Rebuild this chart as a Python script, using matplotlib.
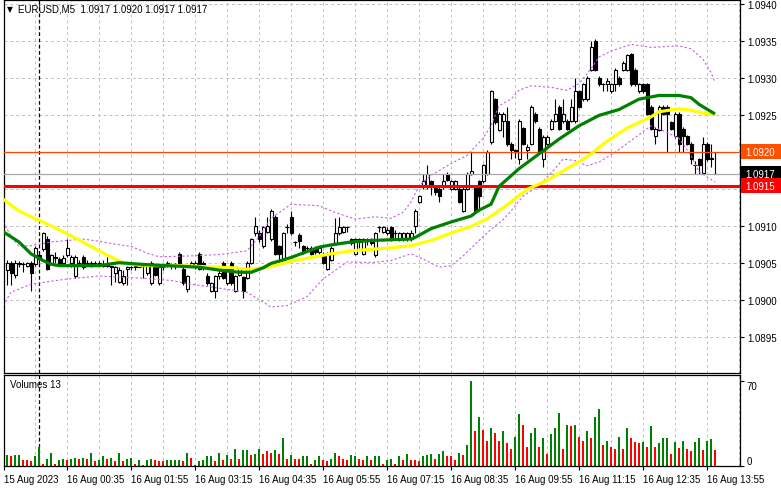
import numpy as np
import matplotlib.pyplot as plt
from matplotlib.patches import Rectangle
from matplotlib.transforms import blended_transform_factory

plt.rcParams['font.family'] = ['Liberation Sans', 'DejaVu Sans']
plt.rcParams['font.size'] = 7

# ---- data (price values in pips above 1.0900) ----
base = 1.0900
pip = 0.0001

opens = [4.0, 5.0, 3.4, 5.0, 4.8, 4.6, 5.0, 4.8, 6.0, 6.8, 8.2, 5.0, 5.8, 5.5, 5.0, 6.0, 5.0, 3.2, 5.0, 5.8,
         4.8, 4.8, 5.0, 4.8, 4.6, 4.8, 4.4, 3.6, 2.4, 2.2, 4.2, 4.4, 4.4, 4.4, 4.6, 3.6, 2.2, 4.6, 2.2, 4.4,
         4.6, 4.6, 4.6, 6.2, 4.2, 1.4, 4.6, 4.4, 6.2, 5.0, 3.2, 1.2, 1.2, 3.2, 5.0, 2.2, 5.0, 1.2, 3.4, 3.0,
         3.0, 5.0, 9.0, 9.0, 7.2, 9.2, 8.2, 11.2, 7.2, 5.0, 9.8, 11.2, 7.8, 8.8, 7.2, 7.0, 7.0, 7.0, 6.4, 6.2,
         4.2, 5.4, 7.6, 9.0, 9.2, 9.8, 8.2, 6.2, 8.2, 6.2, 8.0, 8.2, 6.0, 9.8, 9.2, 9.0, 9.8, 9.0, 8.2, 8.2,
         8.2, 8.2, 10.0, 13.2, 15.2, 15.2, 16.0, 15.2, 15.0, 15.2, 17.0, 15.0, 15.0, 15.0, 12.0, 15.0, 17.0, 15.2, 16.0, 16.0,
         17.0, 21.3, 27.1, 23.0, 24.2, 24.2, 21.1, 20.2, 19.0, 23.2, 20.2, 21.1, 25.1, 23.1, 19.0, 21.1, 23.1, 24.2, 26.1, 24.1,
         24.2, 24.2, 24.1, 28.2, 27.1, 27.1, 31.1, 35.0, 30.0, 29.1, 29.1, 28.2, 29.1, 30.0, 31.1, 31.1, 33.2, 31.1, 28.2, 29.1,
         29.1, 26.1, 22.1, 23.0, 26.1, 26.1, 24.0, 22.1, 25.1, 23.1, 22.1, 21.1, 18.2, 19.0, 17.1, 21.1, 19.0, 17.0]
closes = [5.0, 3.6, 5.0, 4.8, 4.8, 5.0, 3.6, 7.0, 5.5, 9.0, 4.2, 6.0, 5.6, 4.8, 5.6, 7.0, 5.8, 5.8, 5.0, 4.4,
          5.0, 5.0, 5.0, 5.0, 4.8, 4.6, 4.6, 4.4, 4.0, 3.2, 4.4, 4.4, 4.6, 4.4, 4.6, 4.6, 5.0, 3.4, 4.4, 4.4,
          5.0, 4.6, 4.8, 5.0, 2.2, 3.2, 5.0, 5.0, 4.2, 4.4, 2.2, 2.2, 3.2, 3.6, 3.0, 4.2, 2.2, 3.2, 4.2, 1.2,
          5.0, 8.2, 10.0, 8.2, 9.8, 10.0, 12.0, 6.2, 6.2, 9.0, 9.8, 9.0, 7.8, 8.0, 6.4, 7.0, 6.2, 6.4, 7.0, 5.0,
          6.2, 7.0, 9.0, 9.8, 9.8, 9.8, 7.6, 8.2, 7.8, 8.2, 8.2, 7.6, 9.0, 9.8, 9.8, 9.4, 8.2, 9.0, 9.0, 9.0,
          9.0, 9.0, 12.0, 14.0, 16.0, 17.0, 15.2, 14.6, 14.0, 16.0, 16.2, 16.0, 16.0, 13.2, 15.0, 17.0, 17.4, 12.0, 14.0, 18.2,
          20.0, 28.2, 24.0, 25.1, 25.1, 21.1, 20.2, 20.0, 24.2, 21.1, 20.6, 26.1, 24.1, 20.1, 22.0, 22.0, 24.2, 25.1, 23.1, 25.1,
          23.1, 26.1, 28.2, 26.1, 29.1, 30.0, 34.1, 31.1, 29.1, 29.1, 29.6, 29.1, 31.1, 29.1, 32.0, 33.0, 29.1, 29.1, 29.1, 28.2,
          25.1, 23.1, 23.1, 26.1, 25.1, 25.1, 23.1, 25.1, 21.1, 22.1, 21.1, 19.0, 18.2, 18.2, 21.1, 19.0, 19.2, 17.0]
highs = [5.3, 5.2, 5.3, 5.2, 5.1, 5.1, 5.2, 7.2, 6.4, 9.2, 8.6, 6.2, 6.5, 5.8, 6.0, 8.2, 6.0, 6.0, 5.4, 6.0,
         5.4, 5.2, 5.2, 5.2, 5.4, 5.8, 4.6, 4.6, 4.4, 4.0, 4.6, 4.6, 5.0, 4.6, 4.8, 4.8, 5.2, 4.8, 4.6, 4.8,
         5.2, 5.0, 5.0, 6.4, 4.6, 3.4, 5.2, 5.2, 6.4, 5.2, 3.6, 2.4, 3.4, 4.0, 5.2, 4.4, 5.2, 3.4, 4.4, 3.2,
         5.2, 8.4, 11.2, 9.4, 10.0, 11.2, 12.2, 11.4, 7.4, 9.2, 10.2, 12.0, 8.0, 9.0, 7.4, 7.2, 7.2, 7.2, 7.2, 6.4,
         6.4, 7.2, 11.0, 11.2, 10.0, 10.0, 8.4, 8.4, 8.4, 8.4, 8.4, 8.4, 9.2, 10.0, 10.0, 9.8, 10.0, 9.4, 9.2, 9.2,
         9.2, 9.4, 12.2, 14.2, 17.0, 18.2, 16.2, 15.4, 15.2, 17.0, 17.2, 16.2, 16.2, 15.2, 15.2, 17.2, 20.0, 15.4, 16.2, 18.4,
         20.2, 28.4, 27.3, 25.3, 25.3, 26.0, 21.3, 20.4, 24.4, 23.4, 21.1, 26.3, 25.3, 23.3, 22.2, 22.2, 24.4, 27.1, 26.3, 27.1,
         24.4, 27.1, 30.0, 28.4, 29.3, 30.2, 35.0, 35.2, 30.2, 29.3, 30.0, 29.3, 31.3, 30.2, 32.2, 33.2, 33.4, 31.3, 29.3, 29.3,
         29.3, 26.3, 23.3, 26.3, 26.3, 26.3, 24.2, 25.3, 25.3, 23.3, 22.3, 21.3, 18.8, 19.2, 22.0, 21.3, 21.1, 20.0]
lows = [2.0, 2.0, 3.0, 4.4, 3.8, 4.4, 1.2, 4.6, 5.0, 6.6, 4.0, 4.8, 5.0, 4.6, 4.8, 5.8, 4.4, 3.0, 4.6, 4.2,
        4.6, 4.4, 4.5, 4.6, 4.4, 4.4, 2.0, 2.4, 2.2, 2.0, 2.0, 4.0, 4.0, 4.4, 3.0, 3.4, 2.0, 3.2, 2.0, 4.0,
        4.4, 4.2, 4.2, 4.8, 2.0, 1.0, 4.4, 4.2, 4.0, 4.0, 2.0, 1.0, 0.2, 2.8, 2.8, 2.0, 2.0, 1.0, 3.2, 0.2,
        2.8, 4.8, 8.6, 7.8, 7.0, 9.0, 8.0, 6.0, 5.0, 4.8, 9.0, 8.8, 7.2, 7.0, 6.2, 6.4, 6.0, 6.2, 6.2, 4.8,
        4.0, 5.2, 7.4, 8.8, 9.0, 9.2, 7.4, 6.0, 7.0, 6.0, 7.4, 7.4, 5.8, 9.2, 9.0, 8.8, 8.0, 8.4, 8.0, 8.0,
        8.0, 8.0, 9.0, 13.0, 15.0, 15.0, 14.2, 14.2, 13.2, 15.0, 16.0, 14.8, 14.8, 13.0, 11.8, 14.8, 16.8, 11.8, 12.0, 15.8,
        16.8, 21.0, 23.8, 22.8, 22.0, 20.8, 19.0, 19.2, 18.4, 20.9, 19.0, 20.9, 23.9, 19.9, 18.0, 20.9, 22.9, 24.0, 22.9, 23.9,
        22.9, 24.0, 23.9, 25.9, 26.9, 26.9, 30.9, 30.9, 28.9, 28.2, 28.2, 28.0, 28.2, 28.9, 30.9, 30.9, 28.9, 28.9, 28.0, 28.0,
        24.9, 22.9, 21.0, 22.8, 24.9, 20.0, 22.9, 21.9, 20.0, 20.0, 20.9, 18.4, 17.0, 17.0, 17.0, 18.8, 18.0, 17.0]

volumes = [9, 8, 9, 9, 5, 5, 4, 8, 16, 2, 6, 11, 2, 5, 6, 5, 6, 7, 6, 7,
           6, 11, 4, 5, 8, 6, 7, 4, 11, 4, 6, 7, 2, 5, 1, 5, 6, 5, 4, 4,
           5, 5, 5, 5, 4, 11, 7, 1, 4, 5, 8, 8, 4, 11, 5, 9, 6, 14, 6, 13,
           13, 9, 10, 14, 10, 12, 11, 13, 10, 23, 6, 9, 6, 6, 8, 8, 2, 5, 8, 5,
           4, 6, 11, 8, 6, 5, 9, 8, 6, 5, 8, 5, 8, 8, 2, 5, 6,
           2, 8, 5, 10, 5, 5, 4, 8, 9, 10, 6, 10, 12, 8, 8, 5, 11, 9, 17, 70,
           29, 40, 30, 21, 31, 27, 21, 29, 19, 14, 24, 43, 34, 16, 27, 31, 16, 23, 10, 26,
           31, 44, 14, 34, 33, 34, 24, 21, 29, 23, 40, 47, 17, 21, 16, 14, 24, 14, 31, 23,
           20, 19, 20, 16, 33, 16, 19, 23, 23, 10, 20, 15, 21, 14, 12, 20, 23, 13, 21, 22, 13]
# G = volume up (green), R = volume down (red)
vol_dir = ("GRGGRRRGGR" "GGRGGRGGRG" "RGRGGRGRGR" "GGRGRGGRRR" "GGGGRGRRGG"
           "GGRGRGRGRG" "GRGGRRRGRG" "RGRRGGRGGR" "RGGRRRGGRR" "GRGGRGG"
           "RGRGRRRGGG" "RGGRRRGRGG" "RGRRGRRGRR" "GGRRGGRGRG" "GGRGRGRRGR"
           "GGRGRRGRGR" "RRGRGRGGGR" "GRGRRGGRGGR")

# moving averages and bollinger bands: (bar index, pips)
ma_fast_idx = [-1, 3, 6, 9, 11, 13, 23, 28, 36, 48, 53, 58, 61, 64, 66, 71, 78, 81, 86, 91, 96, 101, 102, 106,
               111, 116, 118, 121, 123, 128, 133, 138, 143, 148, 153, 158, 163, 168, 171, 173, 177]
ma_fast = [9.2, 7.8, 6.2, 5.3, 4.8, 4.6, 4.6, 5.0, 4.7, 4.4, 4.0, 3.7, 3.7, 4.3, 4.9, 5.7, 7.1, 7.4, 7.8, 8.0, 8.1, 8.2,
           8.4, 9.6, 10.5, 11.3, 12.1, 12.9, 15.3, 17.7, 19.7, 21.7, 23.5, 24.9, 25.7, 27.1, 27.6, 27.6, 27.3, 26.4, 25.1]
ma_slow_idx = [-1, 3, 6, 11, 15, 19, 23, 27, 30, 36, 44, 52, 57, 60, 64, 66, 71, 78, 81, 86, 91, 96, 101, 106,
               111, 116, 120, 125, 130, 135, 140, 145, 150, 155, 161, 163, 168, 171, 174, 177]
ma_slow = [13.6, 12.0, 11.2, 10.0, 8.9, 7.8, 6.6, 5.5, 4.8, 4.6, 4.6, 4.4, 4.3, 4.1, 4.3, 4.5, 5.2, 5.9, 6.2, 6.6, 6.8,
           7.0, 7.3, 8.0, 9.0, 9.9, 10.9, 12.8, 14.9, 16.1, 17.7, 19.3, 21.4, 23.2, 24.7, 25.4, 25.8, 25.6, 25.2, 25.0]
bb_up_idx = [-1, 1, 3, 6, 11, 15, 19, 23, 27, 31, 35, 38, 45, 53, 60, 63, 66, 71, 78, 82, 87, 92, 96, 99, 101, 103,
             106, 111, 115, 119, 121, 123, 126, 128, 131, 136, 140, 143, 146, 148, 151, 156, 161, 168, 171, 174, 176, 177]
bb_up = [10.5, 8.6, 7.2, 7.3, 7.8, 8.0, 8.2, 7.9, 7.5, 7.2, 6.3, 5.8, 5.9, 6.1, 6.6, 8.5, 11.0, 12.9, 12.7, 11.8, 10.9,
         11.2, 11.0, 11.8, 13.2, 15.4, 16.8, 18.4, 19.5, 21.8, 23.5, 26.2, 27.1, 28.3, 28.9, 28.7, 28.3, 29.2, 31.2, 32.8,
         33.6, 34.5, 34.1, 34.3, 33.9, 32.5, 30.7, 29.4]
bb_lo_idx = [-1, 1, 6, 15, 23, 30, 34, 41, 46, 50, 55, 60, 64, 66, 70, 75, 79, 85, 91, 96, 101, 104, 108, 111, 114,
             118, 121, 124, 126, 129, 133, 137, 139, 142, 145, 148, 152, 156, 161, 165, 168, 171, 173, 175, 177]
bb_lo = [-0.8, 1.0, 2.1, 2.8, 3.2, 3.0, 2.9, 2.6, 2.1, 1.8, 1.4, 1.0, -0.3, -1.0, -0.8, 0.4, 2.8, 5.1, 5.0, 5.3, 6.2,
         5.5, 4.4, 4.6, 5.9, 8.0, 9.5, 10.8, 12.0, 14.0, 15.4, 17.7, 19.0, 18.8, 18.1, 18.6, 19.9, 21.5, 23.5, 22.6,
         21.8, 19.5, 17.3, 16.6, 15.9]

tick_idx = [-0.75, 15, 31, 47, 63, 79, 95, 111, 127, 143, 159, 175]
tick_labels = ['15 Aug 2023', '16 Aug 00:35', '16 Aug 01:55', '16 Aug 03:15', '16 Aug 04:35', '16 Aug 05:55',
               '16 Aug 07:15', '16 Aug 08:35', '16 Aug 09:55', '16 Aug 11:15', '16 Aug 12:35', '16 Aug 13:55']
day_sep_idx = 8
level_open = 1.0920
level_bid = 1.0917
level_support = 1.09154

def to_price(v):
    return base + np.asarray(v, dtype=float) * pip

o, c, h, l = to_price(opens), to_price(closes), to_price(highs), to_price(lows)
x = np.arange(len(o))

# ---- figure layout in pixels ----
W, H = 781, 489
fig = plt.figure(figsize=(W / 100, H / 100), dpi=100)
fig.patch.set_facecolor('white')

def px_axes(left, top, right, bottom):
    return fig.add_axes([left / W, 1 - bottom / H, (right - left) / W, (bottom - top) / H])

ax = px_axes(4, 1, 740, 374)
axv = px_axes(4, 376, 740, 467)

def price_at(ypx):
    return 1.0940 - (ypx - 4.7) / 74 * 0.001

grid_kw = dict(color='#C0C0C0', lw=0.7, ls=(0, (3, 3)), zorder=0)
for a in (ax, axv):
    a.set_xlim(-0.75, 183.25)
    for s in a.spines.values():
        s.set_linewidth(0.9)
        s.set_color('black')
    for gx in np.arange(-1, 184, 8):
        a.axvline(gx, **grid_kw)
    a.axvline(day_sep_idx, color='black', lw=0.9, ls=(0, (3, 2)), zorder=1)
    a.yaxis.tick_right()
    a.tick_params(axis='y', direction='out', length=3, width=0.8, pad=2, labelsize=7)

ax.set_ylim(price_at(374), price_at(1))
yt = np.arange(1.0895, 1.09401, 0.0005)
ax.set_yticks(yt)
# labels hidden under the level boxes are left empty
covered = [level_open, level_support]
ax.set_yticklabels(['' if min(abs(v - cv) for cv in covered) < 0.0001 else '%.4f' % v for v in yt])
for v in yt:
    ax.axhline(v, **grid_kw)
ax.set_xticks([])

# candles
ax.vlines(x, l, h, color='black', lw=0.8, zorder=2)
up = c > o + 1e-7
dn = c < o - 1e-7
flat = ~(up | dn)
ax.bar(x[up], (c - o)[up], bottom=o[up], width=0.75, facecolor='white', edgecolor='black', lw=0.8, zorder=3)
ax.bar(x[dn], (o - c)[dn], bottom=c[dn], width=0.75, facecolor='black', edgecolor='black', lw=0.8, zorder=3)
ax.hlines(c[flat], x[flat] - 0.45, x[flat] + 0.45, color='black', lw=0.8, zorder=3)

# indicators
ax.plot(bb_up_idx, to_price(bb_up), color='#C25FE8', lw=0.8, ls=(0, (2, 2)), zorder=4)
ax.plot(bb_lo_idx, to_price(bb_lo), color='#C25FE8', lw=0.8, ls=(0, (2, 2)), zorder=4)
ax.plot(ma_slow_idx, to_price(ma_slow), color='#FFFF00', lw=2.3, zorder=5, solid_capstyle='butt')
ax.plot(ma_fast_idx, to_price(ma_fast), color='#008000', lw=2.3, zorder=6, solid_capstyle='butt')

# horizontal levels
ax.axhline(level_open, color='#FF4500', lw=0.9, zorder=4)
ax.axhline(level_bid, color='#A8A8A8', lw=0.9, zorder=4)
ax.axhline(level_support, color='#FF0000', lw=2.2, zorder=4)

bt = blended_transform_factory(ax.transAxes, ax.transData)
box_h = 15 / 74 * 0.001
for lvl, col in [(level_open, '#FF4F00'), (level_bid, '#000000'), (level_support, '#FF0000')]:
    ax.add_patch(Rectangle((1.0014, lvl - box_h / 2), 45 / 736, box_h, transform=bt,
                           facecolor=col, edgecolor='none', clip_on=False, zorder=10))
    ax.text(1.0068, lvl, '%.4f' % lvl, transform=bt, color='white', fontsize=7,
            ha='left', va='center', clip_on=False, zorder=11)

# volumes
vcol = ['#008000' if d == 'G' else '#FF0000' for d in vol_dir]
axv.bar(x, volumes, width=0.7, color=vcol, zorder=2)
vscale = 85 / 70
axv.set_ylim(0, (467 - 376) / vscale)
axv.set_yticks([0, 70])
axv.set_yticklabels(['0', '70'])
ylab = axv.get_yticklabels()
ylab[0].set_va('bottom')
ylab[1].set_va('top')
axv.set_xticks(tick_idx)
axv.set_xticklabels(tick_labels)
axv.tick_params(axis='x', direction='out', length=3, width=0.8, pad=3, labelsize=7)
for lbl in axv.get_xticklabels():
    lbl.set_ha('left')
axv.text(6 / 736, 1 - 9 / 91, 'Volumes %d' % volumes[-1], transform=axv.transAxes,
         fontsize=7, ha='left', va='center')

# header
fig.text(7 / W, 1 - 10 / H, '\u25bc', fontsize=5.5, ha='left', va='center', family=['DejaVu Sans'])
fig.text(18 / W, 1 - 10 / H, 'EURUSD,M5  %.4f %.4f %.4f %.4f' % (o[-1], h[-1], l[-1], c[-1]),
         fontsize=7, ha='left', va='center')

fig.savefig('out.png', dpi=100)
